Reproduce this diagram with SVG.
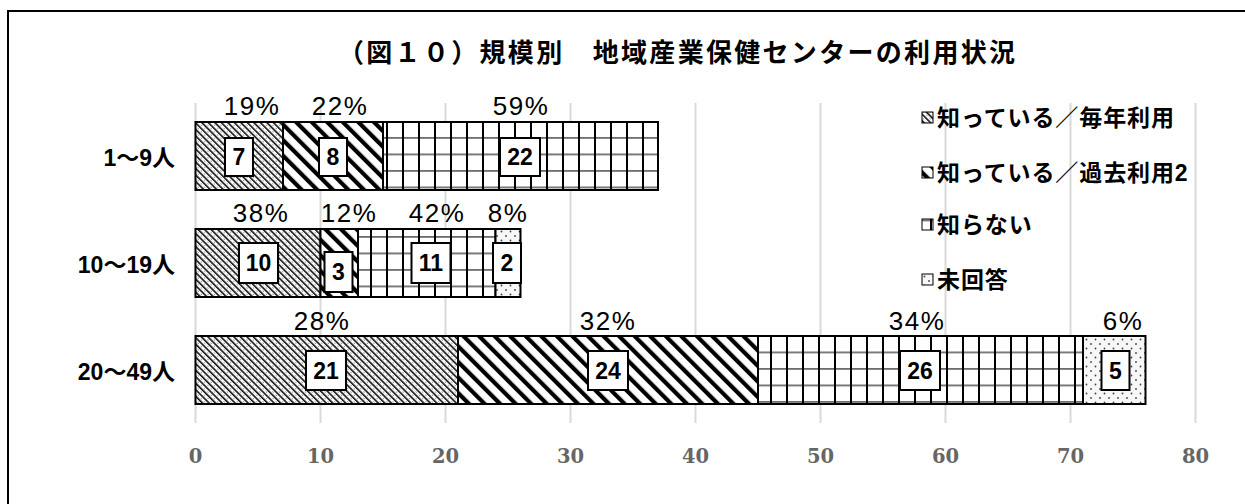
<svg xmlns="http://www.w3.org/2000/svg" width="1245" height="504" viewBox="0 0 1245 504">
<defs>
<pattern id="pA" patternUnits="userSpaceOnUse" width="4.6" height="4.6" patternTransform="rotate(-45)">
<rect width="4.6" height="4.6" fill="#fff"/>
<rect width="1.6" height="4.6" fill="#111"/>
<circle cx="3.2" cy="1" r="0.5" fill="#333"/>
</pattern>
<pattern id="pB" patternUnits="userSpaceOnUse" width="11" height="11" patternTransform="rotate(-45)">
<rect width="11" height="11" fill="#fff"/>
<rect width="4.2" height="11" fill="#000"/>
</pattern>
<pattern id="pC" patternUnits="userSpaceOnUse" width="16" height="16.5" x="2" y="5">
<rect width="16" height="16.5" fill="#fff"/>
<rect x="0" y="0" width="16" height="1.8" fill="#6e6e6e"/>
<rect x="0" y="0" width="2" height="16.5" fill="#000"/>
</pattern>
<pattern id="pD" patternUnits="userSpaceOnUse" width="9" height="9">
<rect width="9" height="9" fill="#f7f7f7"/>
<circle cx="2" cy="2" r="0.9" fill="#444"/>
<circle cx="6.5" cy="6.5" r="0.9" fill="#444"/>
</pattern>
</defs>
<style>
.frame{fill:none;stroke:#000;stroke-width:2}
.grid{stroke:#d9d9d9;stroke-width:2}
.seg{stroke:#000;stroke-width:2}
.pct{font-family:"Liberation Sans",Arial,sans-serif;font-size:26px;letter-spacing:1.5px;fill:#000;text-anchor:middle}
.vb{fill:#fff;stroke:#000;stroke-width:2}
.vt{font-family:"Liberation Sans",Arial,sans-serif;font-size:23px;font-weight:bold;fill:#000;text-anchor:middle}
.cat{font-family:"Liberation Sans","Noto Sans CJK JP",sans-serif;font-size:23px;font-weight:bold;fill:#000;text-anchor:end}
.ax{font-family:"DejaVu Serif","Liberation Serif",serif;font-size:19.5px;font-weight:bold;fill:#666;text-anchor:middle}
.leg{font-family:"Liberation Sans","Noto Sans CJK JP",sans-serif;font-size:23px;font-weight:bold;letter-spacing:0.9px;fill:#000}
.lm{stroke:#000;stroke-width:1}
.title{font-family:"Liberation Sans","Noto Sans CJK JP",sans-serif;font-size:26px;font-weight:bold;fill:#000}
</style>
<rect width="1245" height="504" fill="#fff"/>
<path class="frame" d="M8,505 V11 H1246"/>
<g id="title"><text class="title" x="338" y="62" textLength="677" lengthAdjust="spacing">（図１０）規模別　地域産業保健センターの利用状況</text></g>
<g id="gridlines">
<line class="grid" x1="195.5" y1="103" x2="195.5" y2="423"/>
<line class="grid" x1="320.5" y1="103" x2="320.5" y2="423"/>
<line class="grid" x1="445.5" y1="103" x2="445.5" y2="423"/>
<line class="grid" x1="570.5" y1="103" x2="570.5" y2="423"/>
<line class="grid" x1="695.5" y1="103" x2="695.5" y2="423"/>
<line class="grid" x1="820.5" y1="103" x2="820.5" y2="423"/>
<line class="grid" x1="945.5" y1="103" x2="945.5" y2="423"/>
<line class="grid" x1="1070.5" y1="103" x2="1070.5" y2="423"/>
<line class="grid" x1="1195.5" y1="103" x2="1195.5" y2="423"/>
</g>
<g id="axis-labels">
<text class="ax" x="195.5" y="463">0</text>
<text class="ax" x="320.5" y="463">10</text>
<text class="ax" x="445.5" y="463">20</text>
<text class="ax" x="570.5" y="463">30</text>
<text class="ax" x="695.5" y="463">40</text>
<text class="ax" x="820.5" y="463">50</text>
<text class="ax" x="945.5" y="463">60</text>
<text class="ax" x="1070.5" y="463">70</text>
<text class="ax" x="1195.5" y="463">80</text>
</g>
<g id="categories">
<text class="cat" x="175" y="166">1～9人</text>
<text class="cat" x="175" y="273">10～19人</text>
<text class="cat" x="175" y="380">20～49人</text>
</g>
<g id="row-1-9">
<rect class="seg" x="195.5" y="122" width="87.5" height="68" fill="url(#pA)"/>
<rect class="seg" x="283" y="122" width="100" height="68" fill="url(#pB)"/>
<rect class="seg" x="383" y="122" width="275" height="68" fill="url(#pC)"/>
<text class="pct" x="252" y="115">19%</text>
<text class="pct" x="340" y="115">22%</text>
<text class="pct" x="521" y="115">59%</text>
<rect class="vb" x="225" y="138" width="28" height="38"/><text class="vt" x="239" y="165">7</text>
<rect class="vb" x="319" y="138" width="28" height="38"/><text class="vt" x="333" y="165">8</text>
<rect class="vb" x="500" y="138" width="40" height="38"/><text class="vt" x="520" y="165">22</text>
</g>
<g id="row-10-19">
<rect class="seg" x="195.5" y="229" width="125" height="68" fill="url(#pA)"/>
<rect class="seg" x="320.5" y="229" width="37.5" height="68" fill="url(#pB)"/>
<rect class="seg" x="358" y="229" width="137.5" height="68" fill="url(#pC)"/>
<rect class="seg" x="495.5" y="229" width="25" height="68" fill="url(#pD)"/>
<text class="pct" x="261" y="222">38%</text>
<text class="pct" x="349" y="222">12%</text>
<text class="pct" x="437" y="222">42%</text>
<text class="pct" x="508" y="222">8%</text>
<rect class="vb" x="239" y="243" width="39" height="40"/><text class="vt" x="258.5" y="271">10</text>
<rect class="vb" x="324.5" y="252" width="28" height="40"/><text class="vt" x="338.5" y="280">3</text>
<rect class="vb" x="411.5" y="243" width="39" height="40"/><text class="vt" x="431" y="271">11</text>
<rect class="vb" x="493" y="243" width="28" height="40"/><text class="vt" x="507" y="271">2</text>
</g>
<g id="row-20-49">
<rect class="seg" x="195.5" y="336" width="262.5" height="68" fill="url(#pA)"/>
<rect class="seg" x="458" y="336" width="300" height="68" fill="url(#pB)"/>
<rect class="seg" x="758" y="336" width="325" height="68" fill="url(#pC)"/>
<rect class="seg" x="1083" y="336" width="62.5" height="68" fill="url(#pD)"/>
<text class="pct" x="322" y="330">28%</text>
<text class="pct" x="608" y="330">32%</text>
<text class="pct" x="917" y="330">34%</text>
<text class="pct" x="1123" y="330">6%</text>
<rect class="vb" x="306" y="351" width="40" height="39"/><text class="vt" x="326" y="379">21</text>
<rect class="vb" x="588" y="351" width="40" height="39"/><text class="vt" x="608" y="379">24</text>
<rect class="vb" x="900" y="351" width="40" height="39"/><text class="vt" x="920" y="379">26</text>
<rect class="vb" x="1101.5" y="351" width="28" height="39"/><text class="vt" x="1115.5" y="379">5</text>
</g>
<g id="legend">
<g id="legend-1"><rect class="lm" x="922" y="112" width="11" height="11" fill="url(#pA)"/><text class="leg" x="937" y="126">知っている／毎年利用</text></g>
<g id="legend-2"><rect class="lm" x="922" y="167" width="11" height="11" fill="url(#pB)"/><text class="leg" x="937" y="181">知っている／過去利用2</text></g>
<g id="legend-3"><rect class="lm" x="922" y="219" width="11" height="11" fill="url(#pC)"/><text class="leg" x="937" y="233">知らない</text></g>
<g id="legend-4"><rect class="lm" x="922" y="274" width="11" height="11" fill="url(#pD)"/><text class="leg" x="937" y="288">未回答</text></g>
</g>
<g id="connectors"/>
</svg>
